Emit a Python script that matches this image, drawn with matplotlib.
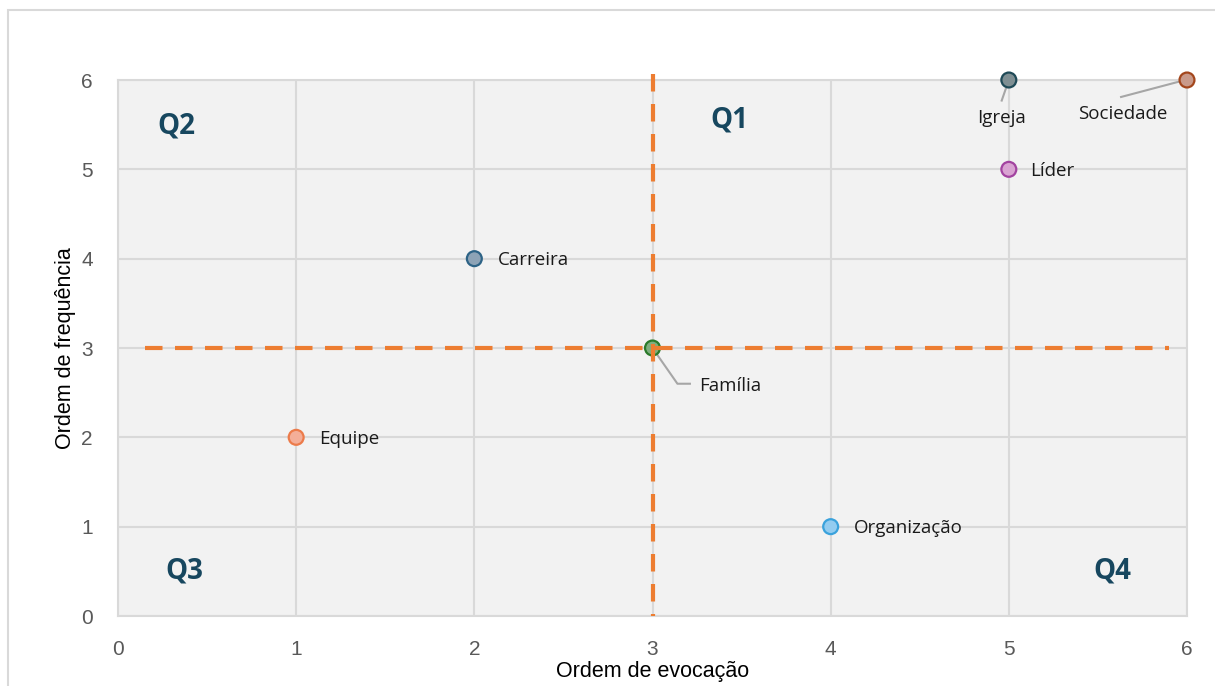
import matplotlib
matplotlib.use("Agg")
import matplotlib.pyplot as plt
from matplotlib.patches import Rectangle

# Data: evocation order (x) and frequency order (y) per term
terms = ["Igreja", "Sociedade", "Líder", "Carreira", "Família", "Equipe", "Organização"]
evocacao = [5, 6, 5, 2, 3, 1, 4]
frequencia = [6, 6, 5, 4, 3, 2, 1]
face_colors = ["#7f8f93", "#c99a8a", "#d9a3d2", "#8da3b6", "#7fae7f", "#f4ae98", "#93ccf0"]
edge_colors = ["#1f4a57", "#a3461c", "#a243a0", "#2d6386", "#2a7a2a", "#ec7b4a", "#3aa2dc"]

x_ticks = [0, 1, 2, 3, 4, 5, 6]
y_ticks = [0, 1, 2, 3, 4, 5, 6]
cut_x = 3
cut_y = 3

quadrants = ["Q1", "Q2", "Q3", "Q4"]
quad_x = [3.43, 0.33, 0.37, 5.58]
quad_y = [5.55, 5.48, 0.5, 0.5]

fig = plt.figure(figsize=(12.15, 6.86), dpi=100)
fig.patch.set_facecolor("white")
fig.patches.append(Rectangle((8 / 1215, -0.05), 1.2, (686 - 10) / 686 + 0.05,
                             transform=fig.transFigure, fill=False,
                             edgecolor="#d9d9d9", linewidth=1.5, zorder=0))

ax = fig.add_axes([118 / 1215, 70 / 686, (1187 - 118) / 1215, (616 - 80) / 686])
ax.set_facecolor("#f2f2f2")
ax.set_xlim(0, 6)
ax.set_ylim(0, 6)
ax.set_xticks(x_ticks)
ax.set_yticks(y_ticks)
ax.grid(True, color="#d9d9d9", linewidth=1.5, zorder=0)
ax.set_axisbelow(True)
for s in ax.spines.values():
    s.set_color("#d9d9d9")
    s.set_linewidth(1.5)
ax.tick_params(axis="x", length=0, labelsize=15, labelcolor="#595959", pad=17)
ax.tick_params(axis="y", length=0, labelsize=15, labelcolor="#595959", pad=18)
for lab in ax.get_xticklabels() + ax.get_yticklabels():
    lab.set_family("Liberation Sans")

ax.set_xlabel("Ordem de evocação", fontsize=15.5, family="Liberation Sans", labelpad=2)
ax.set_ylabel("Ordem de frequência", fontsize=15.5, family="Liberation Sans", labelpad=4)

ax.scatter(evocacao, frequencia, s=115, c=face_colors, edgecolors=edge_colors,
           linewidths=1.6, zorder=3, clip_on=False)

# Quadrant divider lines
ax.plot([0.15, 5.9], [cut_y, cut_y], color="#ed7d31", linewidth=3,
        dashes=(4.2, 3.0), zorder=4, clip_on=False)
ax.plot([cut_x, cut_x], [6.07, 0], color="#ed7d31", linewidth=3,
        dashes=(4.2, 3.0), zorder=4, clip_on=False)

for q, qx, qy in zip(quadrants, quad_x, quad_y):
    ax.text(qx, qy, q, fontsize=20, fontweight="bold", color="#17475f",
            ha="center", va="center", family="Open Sans")

lab_font = dict(fontsize=13.5, family="Open Sans", color="#1a1a1a", zorder=5)
# point labels, some with leader lines
offsets = {
    "Igreja": (-0.04, -0.42, "center"),
    "Sociedade": (-0.36, -0.38, "center"),
    "Líder": (0.12, -0.02, "left"),
    "Carreira": (0.13, -0.02, "left"),
    "Família": (0.26, -0.43, "left"),
    "Equipe": (0.13, -0.02, "left"),
    "Organização": (0.13, -0.02, "left"),
}
for t, xv, yv in zip(terms, evocacao, frequencia):
    dx, dy, ha = offsets[t]
    ax.text(xv + dx, yv + dy, t, ha=ha, va="center", **lab_font)

lead = "#a6a6a6"
ax.plot([5, 4.96], [6, 5.77], color=lead, lw=1.5, zorder=2, clip_on=False)
ax.plot([5.99, 5.63], [6, 5.81], color=lead, lw=1.5, zorder=2, clip_on=False)
ax.plot([3.0, 3.14, 3.21], [3.0, 2.6, 2.6], color=lead, lw=1.5, zorder=2, clip_on=False)

fig.savefig("out.png", dpi=100, facecolor="white")
